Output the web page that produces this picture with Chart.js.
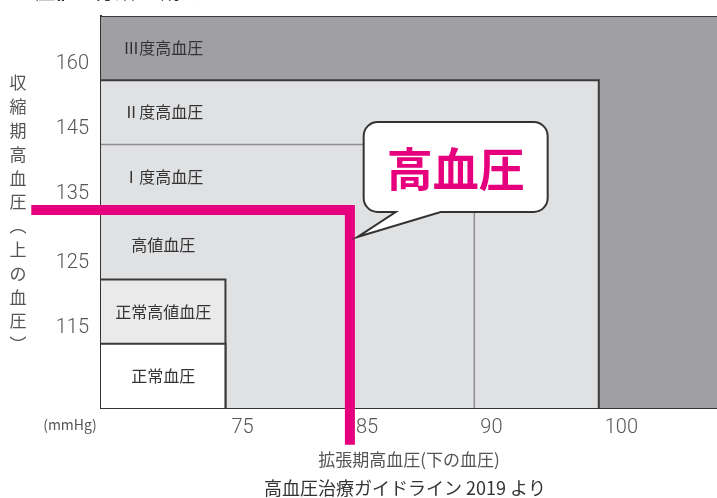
<!DOCTYPE html>
<html>
<head>
<meta charset="utf-8">
<script src="https://cdn.jsdelivr.net/npm/chart.js"></script>
<style>
html, body { margin:0; padding:0; background:#fff; }
</style>
</head>
<body>
<canvas id="myChart" width="717" height="498"></canvas>
<script>
// blood pressure bands (axis units = band index)
const regionNames = ['正常血圧', '正常高値血圧', '高値血圧', 'Ⅰ度高血圧', 'Ⅱ度高血圧', 'Ⅲ度高血圧'];
const regionRight = [1, 1, 2, 3, 4, 4.95];
const regionTop = [1, 2, 3.08, 4.1, 5.1, 6.1];
const regionFill = ['#ffffff', '#eaeaeb', '#e0e1e3', '#e0e1e3', '#e0e1e3', '#a0a0a4'];
const regionEdge = ['#3a3a3a', '#3a3a3a', 'rgba(0,0,0,0)', '#8e8e90', '#3a3a3a', '#3a3a3a'];

const xTickPos = [1, 2, 3, 4];
const xTickLabels = ['75', '85', '90', '100'];
const yTickPos = [1, 2, 3.08, 4.1, 5.1];
const yTickLabels = ['115', '125', '135', '145', '160'];

const markX = [-0.56, 2, 2];
const markY = [3.08, 3.08, -0.57];

const bubbleAt = [2.85, 3.75];
const bubbleTip = [2.06, 2.66];
const bubbleText = '高血圧';

const yTitle = '収縮期高血圧︵上の血圧︶';
const xTitle = '拡張期高血圧(下の血圧)';
const sourceText = '高血圧治療ガイドライン 2019 より';
const unitText = '(mmHg)';

const pink = '#e6007e';
const jp = "'Noto Sans CJK JP', 'Noto Sans', sans-serif";

var dataset = [];
dataset.push({
  data: markX.map((x, i) => ({x: x, y: markY[i]})),
  showLine: true,
  borderColor: pink,
  borderWidth: 10,
  borderJoinStyle: 'miter',
  borderCapStyle: 'butt',
  pointRadius: 0,
  fill: false,
  clip: false
});
for (let i = 0; i < regionNames.length; i++) {
  let pts = [{x: 0, y: regionTop[i]}, {x: regionRight[i], y: regionTop[i]}];
  if (i < regionNames.length - 1) pts.push({x: regionRight[i], y: 0});
  dataset.push({
    label: regionNames[i],
    data: pts,
    showLine: true,
    borderColor: regionEdge[i],
    borderWidth: i == 3 ? 1.5 : 2,
    backgroundColor: regionFill[i],
    fill: 'origin',
    pointRadius: 0,
    tension: 0
  });
}

function roundBubble(ctx, x, y, w, h, r, b1, b2, tx, ty) {
  ctx.beginPath();
  ctx.moveTo(x + r, y);
  ctx.lineTo(x + w - r, y);
  ctx.arcTo(x + w, y, x + w, y + r, r);
  ctx.lineTo(x + w, y + h - r);
  ctx.arcTo(x + w, y + h, x + w - r, y + h, r);
  ctx.lineTo(x + b2, y + h);
  ctx.lineTo(tx, ty);
  ctx.lineTo(x + b1, y + h);
  ctx.lineTo(x + r, y + h);
  ctx.arcTo(x, y + h, x, y + h - r, r);
  ctx.lineTo(x, y + r);
  ctx.arcTo(x, y, x + r, y, r);
  ctx.closePath();
}

const extras = {
  id: 'extras',
  afterDatasetsDraw(chart) {
    const ctx = chart.ctx;
    const xs = chart.scales.x, ys = chart.scales.y;
    ctx.save();
    ctx.fillStyle = '#333';
    ctx.font = '16px ' + jp;
    ctx.textAlign = 'center';
    ctx.textBaseline = 'middle';
    for (let i = 0; i < regionNames.length; i++) {
      let lo = i == 0 ? 0 : regionTop[i - 1];
      ctx.fillText(regionNames[i], xs.getPixelForValue(0.5), ys.getPixelForValue((lo + regionTop[i]) / 2));
    }
    // speech bubble
    let cx = xs.getPixelForValue(bubbleAt[0]);
    let cy = ys.getPixelForValue(bubbleAt[1]);
    let w = 184, h = 90;
    roundBubble(ctx, cx - w / 2, cy - h / 2, w, h, 14, 32, 77,
      xs.getPixelForValue(bubbleTip[0]), ys.getPixelForValue(bubbleTip[1]));
    ctx.fillStyle = '#fff';
    ctx.fill();
    ctx.lineWidth = 2;
    ctx.strokeStyle = '#333';
    ctx.stroke();
    ctx.fillStyle = pink;
    ctx.font = 'bold 46px ' + jp;
    ctx.fillText(bubbleText, cx, cy + 1);
    ctx.restore();
  },
  afterDraw(chart) {
    const ctx = chart.ctx;
    ctx.save();
    ctx.fillStyle = '#555';
    ctx.font = '17px ' + jp;
    ctx.textAlign = 'center';
    ctx.textBaseline = 'middle';
    let chars = Array.from(yTitle);
    for (let i = 0; i < chars.length; i++) {
      ctx.fillText(chars[i], 18, 83 + i * 23.8);
    }
    ctx.font = '14px ' + jp;
    ctx.fillText(unitText, 70, 425);
    ctx.fillStyle = '#333';
    ctx.font = '18px ' + jp;
    ctx.fillText(sourceText, 405, 488);
    // cut-off heading at the top edge
    ctx.textAlign = 'left';
    ctx.textBaseline = 'alphabetic';
    ctx.font = 'bold 20px ' + jp;
    ctx.fillText('血圧値の分類', 15, -1);
    ctx.fillText('成人', 160, -1);
    ctx.restore();
  }
};

var chart = new Chart(document.getElementById('myChart'), {
  type: 'scatter',
  data: { datasets: dataset },
  options: {
    responsive: false,
    animation: false,
    layout: { padding: { top: 14, left: 0, right: 0, bottom: 0 } },
    plugins: { legend: { display: false }, tooltip: { enabled: false } },
    scales: {
      x: {
        type: 'linear',
        min: 0,
        max: 4.95,
        z: 1,
        grid: { display: false },
        border: { color: '#333', width: 2 },
        afterBuildTicks: s => { s.ticks = xTickPos.map(v => ({value: v})); },
        afterFit: s => { s.height = 90; },
        ticks: {
          align: 'start',
          labelOffset: 6,
          padding: 0,
          color: '#555',
          font: { family: 'Roboto', size: 20, weight: '300' },
          callback: (v, i) => xTickLabels[i]
        },
        title: {
          display: true,
          text: xTitle,
          color: '#555',
          font: { family: jp, size: 17 },
          padding: { top: 0, bottom: 28 }
        }
      },
      y: {
        type: 'linear',
        min: 0,
        max: 6.1,
        z: 1,
        grid: { display: false },
        border: { color: '#333', width: 2 },
        afterBuildTicks: s => { s.ticks = yTickPos.map(v => ({value: v})); },
        afterFit: s => { s.width = 101; },
        ticks: {
          labelOffset: -16,
          padding: 4,
          color: '#555',
          font: { family: 'Roboto', size: 20, weight: '300' },
          callback: (v, i) => yTickLabels[i]
        }
      }
    }
  },
  plugins: [extras]
});
</script>
</body>
</html>
